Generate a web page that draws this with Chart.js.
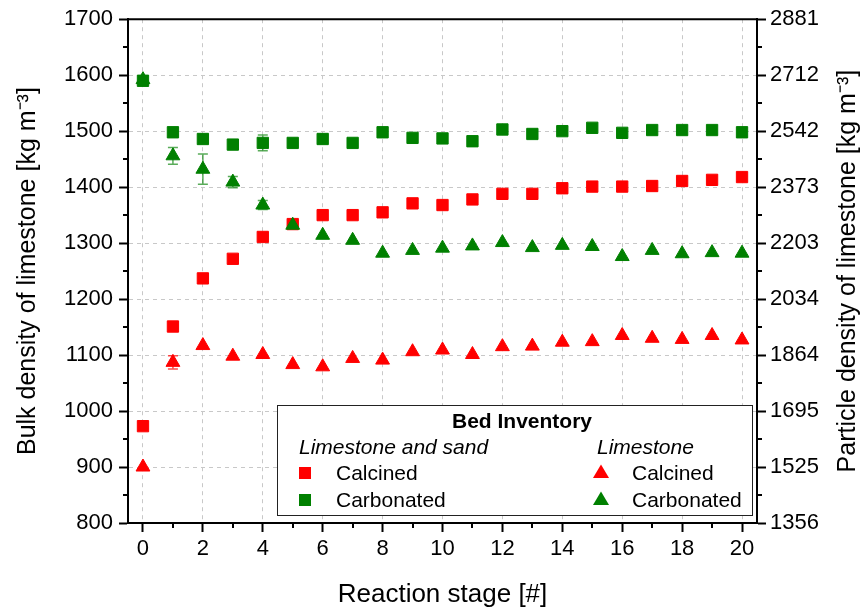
<!DOCTYPE html>
<html>
<head>
<meta charset="utf-8">
<title>Limestone density by reaction stage</title>
<script src="https://cdn.jsdelivr.net/npm/chart.js@4.4.1/dist/chart.umd.min.js"></script>
<style>
  html, body { margin: 0; padding: 0; background: #fff; }
  #wrap { width: 865px; height: 610px; }
</style>
</head>
<body>
<div id="wrap"><canvas id="densityChart" width="865" height="610"></canvas></div>
<script>
const stages = [0, 1, 2, 3, 4, 5, 6, 7, 8, 9, 10, 11, 12, 13, 14, 15, 16, 17, 18, 19, 20];

// bed of limestone and sand
const sandCalcined   = [973, 1151, 1237, 1272, 1311, 1334, 1350, 1350, 1355, 1371, 1368, 1378, 1388, 1388, 1398, 1401, 1401, 1402, 1411, 1413, 1418];
const sandCarbonated = [1590, 1498, 1486, 1476, 1479, 1479, 1486, 1479, 1498, 1488, 1487, 1482, 1503, 1495, 1500, 1506, 1497, 1502, 1502, 1502, 1498];

// bed of limestone only
const limeCalcined   = [900, 1087, 1117, 1098, 1101, 1083, 1079, 1094, 1091, 1106, 1109, 1101, 1115, 1116, 1123, 1124, 1135, 1130, 1128, 1135, 1127];
const limeCarbonated = [1592, 1456, 1432, 1409, 1368, 1332, 1314, 1305, 1282, 1287, 1291, 1295, 1301, 1292, 1296, 1294, 1276, 1287, 1281, 1283, 1282];

// +/- error (0 = no bar drawn)
const sandCarbonatedErr = [0, 0, 0, 0, 14, 0, 0, 0, 0, 0, 0, 0, 0, 0, 0, 0, 0, 0, 0, 0, 0];
const limeCalcinedErr   = [0, 12, 0, 0, 0, 0, 0, 0, 0, 0, 0, 0, 0, 0, 0, 0, 0, 0, 0, 0, 0];
const limeCarbonatedErr = [0, 15, 27, 10, 8, 0, 0, 0, 0, 0, 0, 0, 0, 0, 0, 0, 0, 0, 0, 0, 0];

const stageTicks    = [0, 2, 4, 6, 8, 10, 12, 14, 16, 18, 20];
const bulkTicks     = [800, 900, 1000, 1100, 1200, 1300, 1400, 1500, 1600, 1700];
const particleTicks = [1356, 1525, 1695, 1864, 2034, 2203, 2373, 2542, 2712, 2881];

const RED = '#ff0000';
const GREEN = '#008000';
const FONT = '"Liberation Sans", Arial, Helvetica, sans-serif';

const toPoints = arr => stages.map((s, i) => ({ x: s, y: arr[i] }));

function series(label, values, color, style, order, errors, errColor) {
  return {
    label: label,
    data: toPoints(values),
    showLine: false,
    pointStyle: style,
    pointRadius: 8,
    pointHoverRadius: 8,
    pointBorderWidth: 1,
    backgroundColor: color,
    borderColor: color,
    order: order,
    errors: errors,
    errColor: errColor
  };
}

// midpoints between major ticks, used for the short minor tick marks
const midpoints = ticks => ticks.slice(1).map((v, i) => (v + ticks[i]) / 2);

// vertical error bars with caps, drawn under the markers
const errorBars = {
  id: 'errorBars',
  beforeDatasetsDraw(chart) {
    const { ctx } = chart;
    const xs = chart.scales.x, ys = chart.scales.y;
    ctx.save();
    chart.data.datasets.forEach(ds => {
      if (!ds.errors) return;
      ctx.strokeStyle = ds.errColor;
      ctx.lineWidth = 1.5;
      ds.data.forEach((p, i) => {
        const e = ds.errors[i];
        if (!e) return;
        const px = xs.getPixelForValue(p.x);
        const top = ys.getPixelForValue(p.y + e);
        const bot = ys.getPixelForValue(p.y - e);
        ctx.beginPath();
        ctx.moveTo(px, top); ctx.lineTo(px, bot);
        ctx.moveTo(px - 5, top); ctx.lineTo(px + 5, top);
        ctx.moveTo(px - 5, bot); ctx.lineTo(px + 5, bot);
        ctx.stroke();
      });
    });
    ctx.restore();
  }
};

// top frame line, minor tick marks, and the right axis title (read bottom-up)
const frame = {
  id: 'frame',
  afterDraw(chart) {
    const { ctx, chartArea: a } = chart;
    const xs = chart.scales.x, ys = chart.scales.y, y2 = chart.scales.y2;
    ctx.save();
    ctx.strokeStyle = '#000';
    ctx.lineWidth = 2;
    ctx.beginPath();
    ctx.moveTo(a.left - 1, a.top);
    ctx.lineTo(a.right + 1, a.top);
    ctx.stroke();

    ctx.beginPath();
    midpoints(stageTicks).forEach(v => {
      const px = Math.round(xs.getPixelForValue(v));
      ctx.moveTo(px, a.bottom); ctx.lineTo(px, a.bottom + 5);
    });
    midpoints(bulkTicks).forEach(v => {
      const py = Math.round(ys.getPixelForValue(v));
      ctx.moveTo(a.left, py); ctx.lineTo(a.left - 5, py);
    });
    midpoints(particleTicks).forEach(v => {
      const py = Math.round(y2.getPixelForValue(v));
      ctx.moveTo(a.right, py); ctx.lineTo(a.right + 5, py);
    });
    ctx.stroke();

    const t = y2.options.title;
    ctx.translate(y2.right - 17, (a.top + a.bottom) / 2);
    ctx.rotate(-Math.PI / 2);
    ctx.fillStyle = '#000';
    ctx.font = '25px ' + FONT;
    ctx.textAlign = 'center';
    ctx.textBaseline = 'middle';
    ctx.fillText(t.text, 0, 0);
    ctx.restore();
  }
};

function drawMarker(ctx, style, color, x, y) {
  ctx.fillStyle = color;
  ctx.beginPath();
  if (style === 'rect') {
    ctx.rect(x - 6, y - 6, 12, 12);
  } else {
    ctx.moveTo(x, y - 8.5);
    ctx.lineTo(x + 8, y + 5);
    ctx.lineTo(x - 8, y + 5);
    ctx.closePath();
  }
  ctx.fill();
}

// grouped legend box in the lower right of the plot
const bedLegend = {
  id: 'bedLegend',
  afterDraw(chart) {
    const { ctx, chartArea: a } = chart;
    const ds = chart.data.datasets;
    const w = 475, h = 110;
    const left = a.right - 5 - w;
    const top = a.bottom - 8 - h;
    ctx.save();
    ctx.fillStyle = '#fff';
    ctx.fillRect(left, top, w, h);
    ctx.strokeStyle = '#222';
    ctx.lineWidth = 1;
    ctx.strokeRect(left + 0.5, top + 0.5, w, h);

    ctx.fillStyle = '#000';
    ctx.textBaseline = 'middle';
    ctx.textAlign = 'center';
    ctx.font = 'bold 21px ' + FONT;
    ctx.fillText('Bed Inventory', left + 245, top + 17);

    ctx.textAlign = 'left';
    ctx.font = 'italic 21px ' + FONT;
    ctx.fillText('Limestone and sand', left + 22, top + 43);
    ctx.fillText('Limestone', left + 320, top + 43);

    const cols = [
      { mark: left + 28, text: left + 59, items: [ds[3], ds[2]] },
      { mark: left + 324, text: left + 355, items: [ds[1], ds[0]] }
    ];
    ctx.font = '21px ' + FONT;
    cols.forEach(col => {
      col.items.forEach((d, j) => {
        const cy = top + 68 + j * 27;
        drawMarker(ctx, d.pointStyle, d.backgroundColor, col.mark, cy);
        ctx.fillStyle = '#000';
        ctx.fillText(d.label, col.text, cy + 1);
      });
    });
    ctx.restore();
  }
};

const tickFont = { family: FONT, size: 22 };
const titleFont = { family: FONT, size: 25 };

new Chart(document.getElementById('densityChart'), {
  type: 'scatter',
  data: {
    datasets: [
      series('Carbonated', limeCarbonated, GREEN, 'triangle', 0, limeCarbonatedErr, 'rgba(0,128,0,0.65)'),
      series('Calcined', limeCalcined, RED, 'triangle', 1, limeCalcinedErr, 'rgba(255,0,0,0.7)'),
      series('Carbonated', sandCarbonated, GREEN, 'rect', 2, sandCarbonatedErr, 'rgba(0,128,0,0.65)'),
      series('Calcined', sandCalcined, RED, 'rect', 3, null, null)
    ]
  },
  options: {
    responsive: false,
    animation: false,
    devicePixelRatio: 1,
    layout: { padding: { top: 17, left: 0, right: 0, bottom: 0 } },
    plugins: {
      legend: { display: false },
      tooltip: { enabled: false }
    },
    scales: {
      x: {
        type: 'linear',
        min: -0.5,
        max: 20.5,
        afterBuildTicks: s => { s.ticks = stageTicks.map(v => ({ value: v })); },
        afterFit: s => { s.height = 87; },
        grid: { color: '#c8c8c8', lineWidth: 1, tickColor: '#000', tickLength: 9, tickWidth: 2 },
        border: { color: '#000', width: 2, dash: [4, 4] },
        ticks: { color: '#000', font: tickFont, padding: 4, maxRotation: 0, callback: v => String(v) },
        title: { display: true, text: 'Reaction stage [#]', color: '#000', font: { family: FONT, size: 26 }, padding: { top: 6, bottom: 0 } }
      },
      y: {
        position: 'left',
        min: 800,
        max: 1700,
        afterBuildTicks: s => { s.ticks = bulkTicks.map(v => ({ value: v })); },
        afterFit: s => { s.width = 128; },
        grid: { color: '#c8c8c8', lineWidth: 1, tickColor: '#000', tickLength: 9, tickWidth: 2 },
        border: { color: '#000', width: 2, dash: [4, 4] },
        ticks: { color: '#000', font: tickFont, padding: 6, callback: v => String(v) },
        title: { display: true, text: 'Bulk density of limestone [kg m\u207B\u00B3]', color: '#000', font: titleFont, padding: { top: 13, bottom: 0 } }
      },
      y2: {
        position: 'right',
        min: 1356,
        max: 2881,
        afterBuildTicks: s => { s.ticks = particleTicks.map(v => ({ value: v })); },
        afterFit: s => { s.width = 108; },
        grid: { drawOnChartArea: false, tickColor: '#000', tickLength: 9, tickWidth: 2 },
        border: { color: '#000', width: 2 },
        ticks: { color: '#000', font: tickFont, padding: 4, callback: v => String(v) },
        // drawn by the frame plugin so it reads bottom-up like the left title
        title: { display: false, text: 'Particle density of limestone [kg m\u207B\u00B3]' }
      }
    }
  },
  plugins: [errorBars, frame, bedLegend]
});
</script>
</body>
</html>
